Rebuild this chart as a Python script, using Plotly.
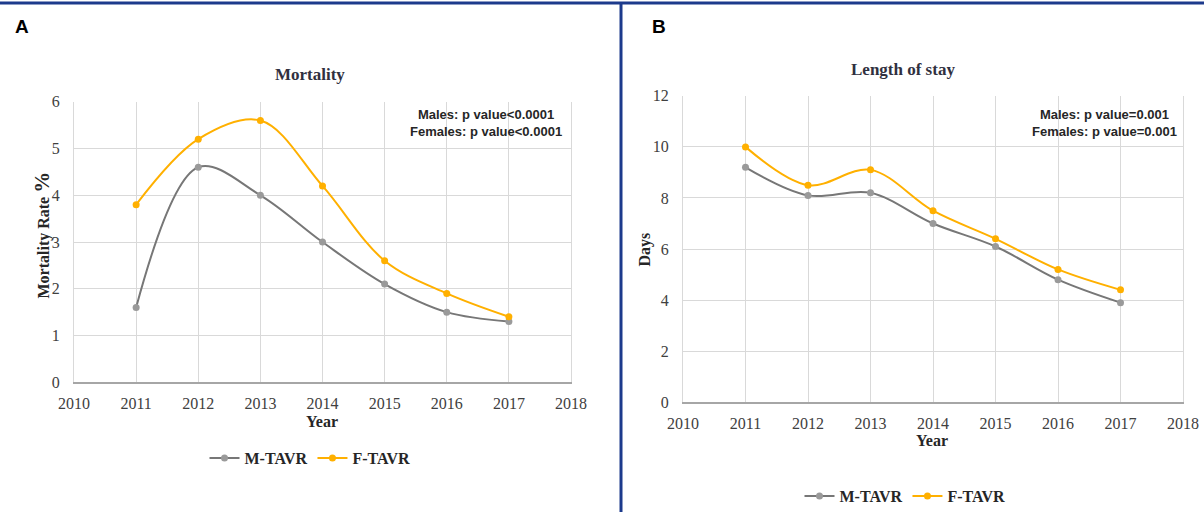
import plotly.graph_objects as go

# Data
years = [2011, 2012, 2013, 2014, 2015, 2016, 2017]
mortality_m = [1.6, 4.6, 4.0, 3.0, 2.1, 1.5, 1.3]
mortality_f = [3.8, 5.2, 5.6, 4.2, 2.6, 1.9, 1.4]
stay_m = [9.2, 8.1, 8.2, 7.0, 6.1, 4.8, 3.9]
stay_f = [10.0, 8.5, 9.1, 7.5, 6.4, 5.2, 4.4]
series_names = ["M-TAVR", "F-TAVR"]
x_ticks = [2010, 2011, 2012, 2013, 2014, 2015, 2016, 2017, 2018]

W, H = 1204, 513
GRAY_LINE = "#777777"
GRAY_MARK = "#9a9a9a"
ORANGE = "#ffb000"
SERIF = "Liberation Serif, Times New Roman, serif"
SANS = "Liberation Sans, Arial, sans-serif"
BORDER = "#1c3a8c"


def px_x(v):
    return v / W


def px_y(v):
    return 1 - v / H


fig = go.Figure()

panels = [
    (mortality_m, mortality_f, "x", "y", "legend"),
    (stay_m, stay_f, "x2", "y2", "legend2"),
]
for m_vals, f_vals, xa, ya, lg in panels:
    fig.add_trace(go.Scatter(
        x=years, y=m_vals, name=f"<b>{series_names[0]}</b>", mode="lines+markers",
        line=dict(color=GRAY_LINE, width=2, shape="spline", smoothing=1.0),
        marker=dict(color=GRAY_MARK, size=7),
        xaxis=xa, yaxis=ya, legend=lg))
    fig.add_trace(go.Scatter(
        x=years, y=f_vals, name=f"<b>{series_names[1]}</b>", mode="lines+markers",
        line=dict(color=ORANGE, width=2, shape="spline", smoothing=1.0),
        marker=dict(color=ORANGE, size=7),
        xaxis=xa, yaxis=ya, legend=lg))

tick_font = dict(family=SERIF, size=16, color="#404040")

xaxis_common = dict(
    range=[2010, 2018], tickvals=x_ticks, ticks="", showgrid=True,
    gridcolor="#d9d9d9", gridwidth=1, zeroline=False, showline=True,
    linecolor="#a6a6a6", linewidth=1.5, tickfont=tick_font,
    ticklabelstandoff=6, automargin=False,
)
yaxis_common = dict(
    showgrid=True, gridcolor="#d9d9d9", gridwidth=1, zeroline=False,
    showline=True, mirror=True, linecolor="#d9d9d9", ticks="",
    tickfont=tick_font, ticklabelstandoff=10, automargin=False,
)
legend_common = dict(orientation="h", xanchor="center", yanchor="middle",
                     font=dict(family=SERIF, size=16, color="#262626"),
                     itemwidth=30, tracegroupgap=0, bgcolor="rgba(0,0,0,0)")

fig.update_layout(
    width=W, height=H, autosize=False,
    margin=dict(l=0, r=0, t=0, b=0),
    paper_bgcolor="white", plot_bgcolor="white",
    xaxis=dict(xaxis_common, domain=[px_x(74), px_x(571)], anchor="y"),
    yaxis=dict(yaxis_common, domain=[px_y(383), px_y(102)], anchor="x",
               range=[0, 6], dtick=1),
    xaxis2=dict(xaxis_common, domain=[px_x(683), px_x(1183)], anchor="y2"),
    yaxis2=dict(yaxis_common, domain=[px_y(403), px_y(96)], anchor="x2",
                range=[0, 12], dtick=2),
    legend=dict(legend_common, x=px_x(310), y=px_y(458)),
    legend2=dict(legend_common, x=px_x(905), y=px_y(497)),
    showlegend=True,
)

annotations = [
    dict(text="<b>A</b>", x=px_x(13), y=px_y(27), xanchor="left", yanchor="middle",
         font=dict(family=SANS, size=19, color="black")),
    dict(text="<b>B</b>", x=px_x(650), y=px_y(27), xanchor="left", yanchor="middle",
         font=dict(family=SANS, size=19, color="black")),
    dict(text="<b>Mortality</b>", x=px_x(310), y=px_y(75), xanchor="center",
         yanchor="middle", font=dict(family=SERIF, size=17, color="#303040")),
    dict(text="<b>Length of stay</b>", x=px_x(903), y=px_y(70), xanchor="center",
         yanchor="middle", font=dict(family=SERIF, size=17, color="#303040")),
    dict(text="<b>Males: p value<0.0001<br>Females: p value<0.0001</b>",
         x=px_x(486), y=px_y(123), xanchor="center", yanchor="middle", align="center",
         font=dict(family=SANS, size=13, color="#262626")),
    dict(text="<b>Males: p value=0.001<br>Females: p value=0.001</b>",
         x=px_x(1104), y=px_y(123), xanchor="center", yanchor="middle", align="center",
         font=dict(family=SANS, size=13, color="#262626")),
    # axis titles
    dict(text="<b>Mortality Rate <span style='font-size:21px'>%</span></b>",
         x=px_x(42), y=px_y(236), xanchor="center", yanchor="middle", textangle=-90,
         font=dict(family=SERIF, size=16, color="#262626")),
    dict(text="<b>Days</b>", x=px_x(645), y=px_y(250), xanchor="center",
         yanchor="middle", textangle=-90,
         font=dict(family=SERIF, size=16, color="#262626")),
    dict(text="<b>Year</b>", x=px_x(322), y=px_y(422), xanchor="center",
         yanchor="middle", font=dict(family=SERIF, size=16, color="#262626")),
    dict(text="<b>Year</b>", x=px_x(932), y=px_y(441), xanchor="center",
         yanchor="middle", font=dict(family=SERIF, size=16, color="#262626")),
]
fig.update_layout(annotations=[dict(a, xref="paper", yref="paper", showarrow=False)
                               for a in annotations])

# Frame: top rule and vertical divider between the two panels
fig.update_layout(shapes=[
    dict(type="line", xref="paper", yref="paper", x0=0, x1=1, y0=px_y(3), y1=px_y(3),
         line=dict(color=BORDER, width=3)),
    dict(type="line", xref="paper", yref="paper", x0=px_x(621), x1=px_x(621),
         y0=0, y1=px_y(3), line=dict(color=BORDER, width=3)),
])

fig.write_html("out.html")
